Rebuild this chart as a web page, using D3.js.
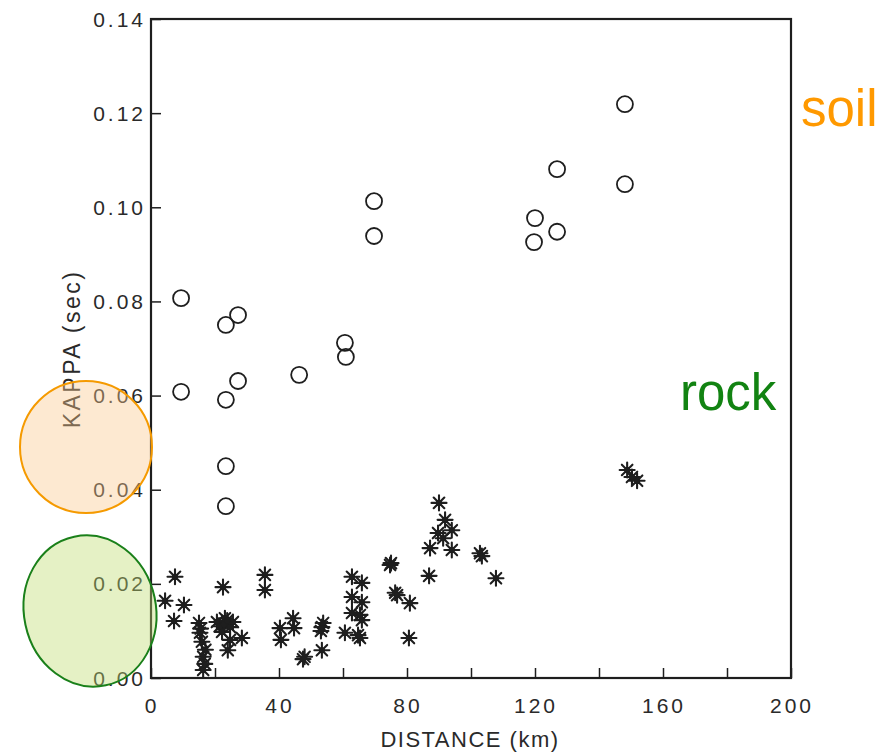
<!DOCTYPE html>
<html>
<head>
<meta charset="utf-8">
<script src="https://cdn.jsdelivr.net/npm/d3@7/dist/d3.min.js"></script>
<style>
html,body{margin:0;padding:0;background:#fff;}
svg{display:block;}
</style>
</head>
<body>
<svg id="chart" width="887" height="753"></svg>
<script>
// ---- data ----
const soilDist  = [9.4, 9.4, 23.4, 27.2, 23.4, 27.2, 23.4, 23.4, 46.3, 60.6, 60.9, 69.7, 69.7, 120, 119.7, 126.9, 126.9, 148.1, 148.1];
const soilKappa = [0.0807, 0.0608, 0.0750, 0.0771, 0.0591, 0.0631, 0.0450, 0.0365, 0.0644, 0.0712, 0.0682, 0.1013, 0.0939, 0.0977, 0.0926, 0.1081, 0.0948, 0.1219, 0.1049];

const rockDist  = [4.4, 7.5, 10.3, 7.2, 22.5,
  15, 15.3, 15.9, 16.3, 16.3, 17, 15.5, 16.8,
  20.6, 23.1, 24.7, 22.2, 24.7, 24, 28.4, 25.6, 21.5, 22.8, 23.8,
  35.6, 35.6,
  40.3, 40.6, 44.4, 44.7, 47.5, 48,
  53.4, 53.1, 53.8, 53.4,
  60.6, 62.8, 65.9, 62.8, 65.9, 62.8, 65.3, 65.9, 65.3, 64.7,
  74.7, 75, 76.3, 76.9, 80.9, 80.6,
  86.9, 87.2, 89.7, 90, 91.9, 94, 91.3, 94,
  102.8, 103.4, 107.8,
  148.8, 150.3, 151.9];
const rockKappa = [0.0164, 0.0215, 0.0155, 0.0121, 0.0193,
  0.0117, 0.0096, 0.0077, 0.0045, 0.0017, 0.0060, 0.0105, 0.0030,
  0.0119, 0.0127, 0.0108, 0.0098, 0.0081, 0.0059, 0.0085, 0.0119, 0.0110, 0.0114, 0.0122,
  0.0219, 0.0187,
  0.0106, 0.0081, 0.0127, 0.0106, 0.0040, 0.0045,
  0.0108, 0.0100, 0.0117, 0.0059,
  0.0096, 0.0215, 0.0202, 0.0172, 0.0161, 0.0138, 0.0134, 0.0123, 0.0085, 0.0091,
  0.0240, 0.0244, 0.0181, 0.0176, 0.0159, 0.0085,
  0.0217, 0.0276, 0.0308, 0.0372, 0.0336, 0.0314, 0.0297, 0.0272,
  0.0265, 0.0259, 0.0212,
  0.0442, 0.0427, 0.0419];

const xTicks = [0, 40, 80, 120, 160, 200];
const xMinorTicks = [20, 60, 100, 140, 180];
const yTicks = [0.00, 0.02, 0.04, 0.06, 0.08, 0.10, 0.12, 0.14];
const xTitle = "DISTANCE  (km)";
const yTitle = "KAPPA  (sec)";
const annSoil = "soil";
const annRock = "rock";

// ---- layout ----
const svg = d3.select("#chart");
const pLeft = 151, pRight = 791, pTop = 19, pBottom = 678;
const x = d3.scaleLinear().domain([0, 200]).range([pLeft, pRight]);
const y = d3.scaleLinear().domain([0, 0.14]).range([pBottom, pTop]);
const ink = "#1e1e1e";
const textInk = "#2a2a2a";
const font = "'Liberation Sans', Arial, Helvetica, sans-serif";

// frame
svg.append("rect").attr("x", pLeft).attr("y", pTop)
  .attr("width", pRight - pLeft).attr("height", pBottom - pTop)
  .attr("fill", "none").attr("stroke", ink).attr("stroke-width", 2.2);

// x axis ticks (inward)
const xAxis = d3.axisBottom(x).tickValues(xTicks.concat(xMinorTicks))
  .tickSizeInner(-10).tickSizeOuter(0).tickFormat("");
const gx = svg.append("g").attr("transform", `translate(0,${pBottom})`).call(xAxis);
gx.select(".domain").remove();
gx.selectAll(".tick line").attr("stroke", ink).attr("stroke-width", 1.5);

const yAxis = d3.axisLeft(y).tickValues(yTicks)
  .tickSizeInner(-10).tickSizeOuter(0).tickFormat("");
const gy = svg.append("g").attr("transform", `translate(${pLeft},0)`).call(yAxis);
gy.select(".domain").remove();
gy.selectAll(".tick line").attr("stroke", ink).attr("stroke-width", 1.5);

// tick labels
svg.append("g").selectAll("text").data(xTicks).join("text")
  .attr("x", d => x(d) + 1).attr("y", 713)
  .attr("text-anchor", "middle")
  .attr("font-family", font).attr("font-size", 21)
  .attr("letter-spacing", "3px")
  .attr("fill", textInk)
  .text(d => d);

svg.append("g").selectAll("text").data(yTicks).join("text")
  .attr("x", 146).attr("y", d => y(d) + 7.5)
  .attr("text-anchor", "end")
  .attr("font-family", font).attr("font-size", 21)
  .attr("letter-spacing", "3px")
  .attr("fill", textInk)
  .text(d => d3.format(".2f")(d));

// axis titles
svg.append("text")
  .attr("x", 470).attr("y", 747)
  .attr("text-anchor", "middle")
  .attr("font-family", font).attr("font-size", 22)
  .attr("letter-spacing", "1.5px")
  .attr("fill", textInk)
  .text(xTitle);

svg.append("text")
  .attr("transform", "translate(80,349) rotate(-90)")
  .attr("text-anchor", "middle")
  .attr("font-family", font).attr("font-size", 23)
  .attr("letter-spacing", "2.5px")
  .attr("fill", textInk)
  .text(yTitle);

// soil circles
svg.append("g").selectAll("circle").data(soilDist.map((d, i) => [d, soilKappa[i]]))
  .join("circle")
  .attr("cx", d => x(d[0])).attr("cy", d => y(d[1])).attr("r", 8)
  .attr("fill", "none").attr("stroke", ink).attr("stroke-width", 1.8);

// rock asterisks
const rr = 7.5;
const aa = rr * Math.SQRT1_2;
const star = `M${-rr},0L${rr},0M0,${-rr}L0,${rr}M${-aa},${-aa}L${aa},${aa}M${-aa},${aa}L${aa},${-aa}`;
svg.append("g").selectAll("path").data(rockDist.map((d, i) => [d, rockKappa[i]]))
  .join("path")
  .attr("transform", d => `translate(${x(d[0])},${y(d[1])})`)
  .attr("d", star)
  .attr("fill", "none").attr("stroke", ink).attr("stroke-width", 2.1)
  .attr("stroke-linecap", "round");
svg.append("g").selectAll("circle").data(rockDist.map((d, i) => [d, rockKappa[i]]))
  .join("circle")
  .attr("cx", d => x(d[0])).attr("cy", d => y(d[1])).attr("r", 3)
  .attr("fill", ink);

// annotations
svg.append("circle").attr("cx", 86).attr("cy", 447).attr("r", 66)
  .attr("fill", "rgb(250,200,140)").attr("fill-opacity", 0.4)
  .attr("stroke", "#f59a00").attr("stroke-width", 2);
svg.append("ellipse").attr("cx", 90).attr("cy", 611).attr("rx", 66).attr("ry", 76)
  .attr("transform", "rotate(-12,90,611)")
  .attr("fill", "rgb(190,220,110)").attr("fill-opacity", 0.4)
  .attr("stroke", "#1a801a").attr("stroke-width", 2);

svg.append("text").attr("x", 801).attr("y", 126)
  .attr("font-family", font).attr("font-size", 51)
  .attr("fill", "#ff9900").text(annSoil);
svg.append("text").attr("x", 680).attr("y", 410)
  .attr("font-family", font).attr("font-size", 51)
  .attr("fill", "#128312").text(annRock);
</script>
</body>
</html>
